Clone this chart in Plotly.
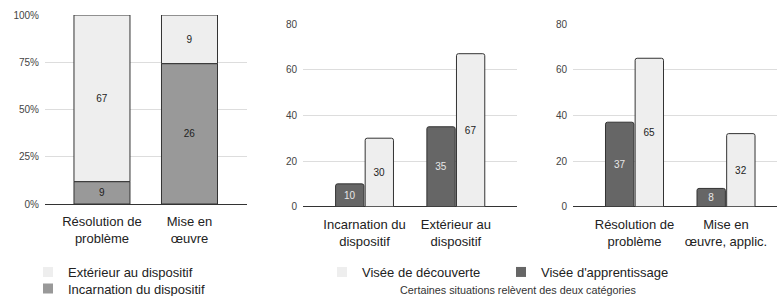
import plotly.graph_objects as go

# ---------------- data ----------------
cat1 = ["Résolution de<br>problème", "Mise en<br>œuvre"]
incarnation = [9, 26]
exterieur = [67, 9]

cat2 = ["Incarnation du<br>dispositif", "Extérieur au<br>dispositif"]
apprentissage2 = [10, 35]
decouverte2 = [30, 67]

cat3 = ["Résolution de<br>problème", "Mise en<br>œuvre, applic."]
apprentissage3 = [37, 8]
decouverte3 = [65, 32]

pct_ticks = [0, 25, 50, 75, 100]
pct_labels = ["0%", "25%", "50%", "75%", "100%"]
count_ticks = [0, 20, 40, 60, 80]

# ---------------- style ----------------
W, H = 777, 296
FONT = "Liberation Sans, Arial, sans-serif"
LIGHT = "#eeeeee"
MID = "#999999"
DARK = "#666666"
EDGE = "#333333"
GRID = "#dddddd"
TXT = "#222222"


def px(x):
    return x / W


def py(y):
    return (H - y) / H


totals = [a + b for a, b in zip(incarnation, exterieur)]
pct_inc = [100 * a / t for a, t in zip(incarnation, totals)]
pct_ext = [100 * b / t for b, t in zip(exterieur, totals)]

fig = go.Figure()

bar_common = dict(textposition="inside", insidetextanchor="middle", textangle=0,
                  constraintext="none", showlegend=False, hoverinfo="skip")

# chart 1 : 100% stacked
fig.add_trace(go.Bar(x=cat1, y=pct_inc, text=incarnation, width=0.64,
                     marker=dict(color=MID, line=dict(color=EDGE, width=1)),
                     textfont=dict(color=TXT, size=10, family=FONT),
                     xaxis="x", yaxis="y", **bar_common))
fig.add_trace(go.Bar(x=cat1, y=pct_ext, base=pct_inc, text=exterieur, width=0.64,
                     marker=dict(color=LIGHT, line=dict(color=EDGE, width=1)),
                     textfont=dict(color=TXT, size=10, family=FONT),
                     xaxis="x", yaxis="y", **bar_common))

BW = 0.31
for cats, dk, lt, xa, ya in [(cat2, apprentissage2, decouverte2, "x2", "y2"),
                             (cat3, apprentissage3, decouverte3, "x3", "y3")]:
    fig.add_trace(go.Bar(x=cats, y=dk, text=dk, width=BW, offset=-BW - 0.007,
                         marker=dict(color=DARK, line=dict(color=EDGE, width=1), cornerradius=2),
                         textfont=dict(color="#e8e8e8", size=10, family=FONT),
                         xaxis=xa, yaxis=ya, **bar_common))
    fig.add_trace(go.Bar(x=cats, y=lt, text=lt, width=BW, offset=0.007,
                         marker=dict(color=LIGHT, line=dict(color=EDGE, width=1), cornerradius=2),
                         textfont=dict(color=TXT, size=10, family=FONT),
                         xaxis=xa, yaxis=ya, **bar_common))


# legend-only entries (one legend per entry for exact placement)
def legend_entry(name, color, legend):
    return go.Scatter(x=[None], y=[None], mode="markers", name=name,
                      marker=dict(symbol="square", size=10, color=color),
                      legend=legend, xaxis="x", yaxis="y")


fig.add_trace(legend_entry("Extérieur au dispositif", LIGHT, "legend"))
fig.add_trace(legend_entry("Incarnation du dispositif", MID, "legend2"))
fig.add_trace(legend_entry("Visée de découverte", LIGHT, "legend3"))
fig.add_trace(legend_entry("Visée d'apprentissage", DARK, "legend4"))

xcommon = dict(type="category", showgrid=False, showline=False, ticks="",
               ticklabelstandoff=8,
               tickfont=dict(size=13, color=TXT, family=FONT), fixedrange=True)
ycommon = dict(showgrid=True, gridcolor=GRID, gridwidth=1, zeroline=True,
               zerolinecolor=EDGE, zerolinewidth=1, showline=False, ticks="",
               ticklabelstandoff=5,
               tickfont=dict(size=10, color="#444444", family=FONT), fixedrange=True)


def leg(x, y):
    return dict(orientation="v", x=px(x), y=py(y), xanchor="left", yanchor="middle",
                font=dict(size=13, color=TXT, family=FONT), bgcolor="rgba(0,0,0,0)")


fig.update_layout(
    width=W, height=H, margin=dict(l=0, r=0, t=0, b=0, autoexpand=False),
    paper_bgcolor="white", plot_bgcolor="white",
    font=dict(family=FONT, color=TXT),
    barmode="overlay",
    xaxis=dict(domain=[px(45), px(247)], range=[-0.651, 1.657], anchor="y", **xcommon),
    yaxis=dict(domain=[py(204), py(15)], range=[0, 100], tickvals=pct_ticks,
               ticktext=pct_labels, anchor="x", **ycommon),
    xaxis2=dict(domain=[px(303), px(517)], range=[-0.674, 1.670], anchor="y2", **xcommon),
    yaxis2=dict(domain=[py(206.7), py(24)], range=[0, 80], tickvals=count_ticks,
                anchor="x2", **ycommon),
    xaxis3=dict(domain=[px(573), px(777)], range=[-0.672, 1.557], anchor="y3", **xcommon),
    yaxis3=dict(domain=[py(206.7), py(24)], range=[0, 80], tickvals=count_ticks,
                anchor="x3", **ycommon),
    legend=leg(28, 272),
    legend2=leg(28, 288.5),
    legend3=leg(322, 272),
    legend4=leg(501, 272),
    annotations=[dict(text="Certaines situations relèvent des deux catégories",
                      x=px(517.5), y=py(289.5), xref="paper", yref="paper",
                      xanchor="center", yanchor="middle", showarrow=False,
                      font=dict(size=10.8, color="#333333", family=FONT))],
)

fig.write_html("out.html", config={"displayModeBar": False},
               post_script="document.body.style.margin='0';")
